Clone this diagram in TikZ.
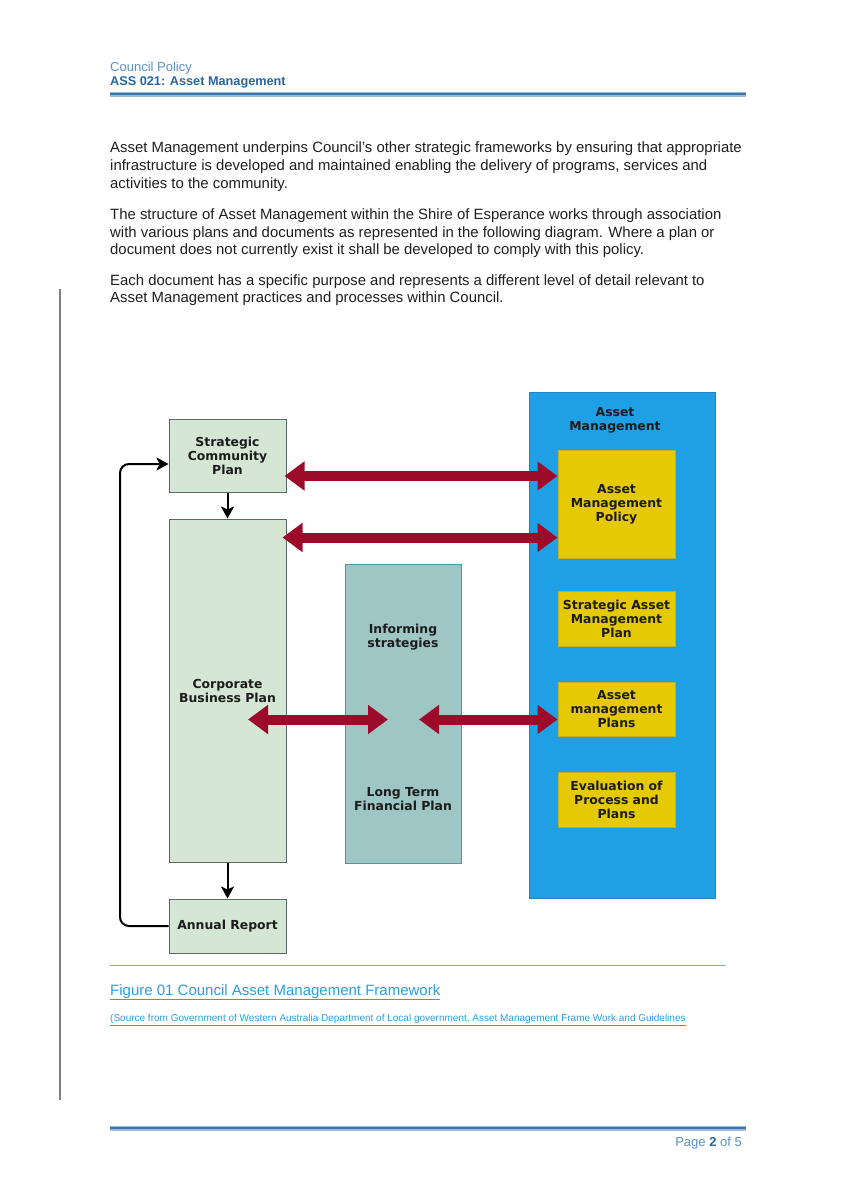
\documentclass[tikz,border=0pt]{standalone}
\usepackage{fontspec}
\setmainfont{Liberation Sans}
\newfontfamily\diagfam{DejaVu Sans}
\usetikzlibrary{arrows.meta}
\definecolor{hdrlight}{HTML}{5A92C4}
\definecolor{hdrdark}{HTML}{2467A3}
\definecolor{rulelight}{HTML}{9BBBDA}
\definecolor{ruledark}{HTML}{3A74AE}
\definecolor{gfill}{HTML}{D6E6D5}
\definecolor{gborder}{HTML}{5C6665}
\definecolor{tfill}{HTML}{9EC6C4}
\definecolor{tborder}{HTML}{4E97A8}
\definecolor{bfill}{HTML}{1FA0E5}
\definecolor{bborder}{HTML}{2384C2}
\definecolor{yfill}{HTML}{E5C902}
\definecolor{yborder}{HTML}{C5AE1C}
\definecolor{redarr}{HTML}{9C0B2A}
\definecolor{capblue}{HTML}{2E9DE2}
\definecolor{caprule}{HTML}{6DB6EA}
\definecolor{dtext}{HTML}{1C1C1C}
\newcommand\diagfont{\diagfam\bfseries\fontsize{12.4}{14}\selectfont}
\tikzset{
  para/.style={anchor=base west, inner sep=0pt, font=\fontsize{14.9}{17}\selectfont, text=black!88},
  gbox/.style={draw=gborder, fill=gfill, line width=1pt, inner sep=0pt, align=center, font=\diagfont, text=dtext},
  tbox/.style={draw=tborder, fill=tfill, line width=1pt, inner sep=0pt},
  bbox/.style={draw=bborder, fill=bfill, line width=1pt, inner sep=0pt},
  ybox/.style={draw=yborder, fill=yfill, line width=1pt, inner sep=0pt, align=center, font=\diagfont, text=dtext},
  lbl/.style={inner sep=0pt, align=center, font=\diagfont, text=dtext},
  redarrow/.style={draw=redarr, line width=10pt, {Triangle[width=28pt,length=20pt]}-{Triangle[width=28pt,length=20pt]}},
  blkarrow/.style={draw=black, line width=2pt, -{Stealth[width=13pt,length=12pt,inset=3pt]}},
}
\begin{document}
\begin{tikzpicture}[x=1pt,y=-1pt]
\fill[white] (0,0) rectangle (844,1193);
\useasboundingbox (0,0) rectangle (844,1193);

% header
\node[anchor=base west, inner sep=0pt, font=\fontsize{13}{15}\selectfont, text=hdrlight] (hdr1) at (110,72) {Council Policy};
\node[anchor=base west, inner sep=0pt, font=\bfseries\fontsize{12.7}{15}\selectfont, text=hdrdark] (hdr2) at (110,86) {ASS 021: Asset Management};
\fill[rulelight] (110,92) rectangle (746,97.5);
\draw[ruledark, line width=1.6pt] (110,94.2) -- (746,94.2);

% left margin bar
\draw[gray, line width=2pt] (60,289) -- (60,1100);

% body paragraphs
\node[para] (p1a) at (110,153) {Asset Management underpins Council’s other strategic frameworks by ensuring that appropriate};
\node[para] (p1b) at (110,171) {infrastructure is developed and maintained enabling the delivery of programs, services and};
\node[para] (p1c) at (110,189) {activities to the community.};
\node[para] (p2a) at (110,219) {The structure of Asset Management within the Shire of Esperance works through association};
\node[para] (p2b) at (110,237) {with various plans and documents as represented in the following diagram. Where a plan or};
\node[para] (p2c) at (110,254) {document does not currently exist it shall be developed to comply with this policy.};
\node[para] (p3a) at (110,285) {Each document has a specific purpose and represents a different level of detail relevant to};
\node[para] (p3b) at (110,302) {Asset Management practices and processes within Council.};

% diagram boxes
\node[bbox, minimum width=186pt, minimum height=506pt] (AM) at (622,645) {};
\node[lbl] (AMt) at (615,420) {Asset\\Management};
\node[ybox, minimum width=117pt, minimum height=108pt] (AMP) at (616.5,504) {Asset\\Management\\Policy};
\node[ybox, minimum width=117pt, minimum height=55pt] (SAMP) at (616.5,618.5) {Strategic Asset\\Management\\Plan};
\node[ybox, minimum width=117pt, minimum height=54pt] (AMPL) at (616.5,709) {Asset\\management\\Plans};
\node[ybox, minimum width=117pt, minimum height=55pt] (EVAL) at (616.5,799.5) {Evaluation of\\Process and\\Plans};

\node[gbox, minimum width=117pt, minimum height=73pt] (SCP) at (227.5,455.5) {Strategic\\Community\\Plan};
\node[gbox, minimum width=117pt, minimum height=343pt] (CBP) at (227.5,690.5) {Corporate\\Business Plan};
\node[gbox, minimum width=117pt, minimum height=54pt] (AR) at (227.5,926) {Annual Report};

\node[tbox, minimum width=116pt, minimum height=299pt] (IS) at (403,713.5) {};
\node[lbl] (ISt) at (403,637) {Informing\\strategies};
\node[lbl] (LTFP) at (403,799.5) {Long Term\\Financial Plan};

% red double arrows
\coordinate (y1) at (0,476);
\coordinate (y2) at (0,537.5);
\coordinate (a3l) at (248,719.5);
\coordinate (a3r) at (388,719.5);
\coordinate (a4l) at (419,719.5);
\draw[redarrow] ([xshift=-2pt]SCP.east |- y1) -- (AMP.west |- y1);
\draw[redarrow] ([xshift=-4pt]CBP.east |- y2) -- (AMP.west |- y2);
\draw[redarrow] (a3l) -- (a3r);
\draw[redarrow] (a4l) -- (AMPL.west |- a4l);

% black flow arrows
\draw[blkarrow] (SCP.south) -- (CBP.north);
\draw[blkarrow] (CBP.south) -- (AR.north);
\coordinate (lp) at (120,464);
\draw[blkarrow, rounded corners=9pt] (AR.west) -| (lp) -- (SCP.west |- lp);

% caption
\draw[caprule, line width=1.2pt] (110,965.5) -- (726,965.5);
\node[anchor=base west, inner sep=0pt, font=\fontsize{15}{17}\selectfont, text=capblue] (cap) at (110,995) {\underline{Figure 01 Council Asset Management Framework}};
\node[anchor=base west, inner sep=0pt, font=\fontsize{10}{11}\selectfont, text=capblue] (src) at (110,1021.5) {\underline{(Source from Government of Western Australia Department of Local government, Asset Management Frame Work and Guidelines}};

% footer
\fill[rulelight] (110,1125.5) rectangle (746,1131);
\draw[ruledark, line width=1.6pt] (110,1128.2) -- (746,1128.2);
\node[anchor=base east, inner sep=0pt, font=\fontsize{13}{15}\selectfont, text=hdrlight] (pg) at (742,1146) {Page \textbf{\color{hdrdark}2} of 5};
\end{tikzpicture}
\end{document}
